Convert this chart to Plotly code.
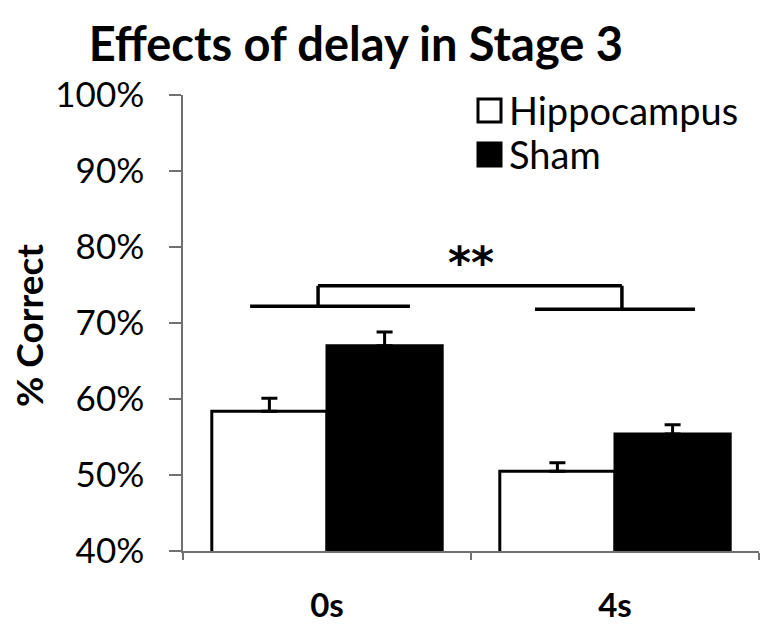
import plotly.graph_objects as go

categories = ["0s", "4s"]
category_labels = ["<b>0s</b>", "<b>4s</b>"]
series_names = ["Hippocampus", "Sham"]
hippocampus = [58.4, 50.5]
hippocampus_err = [1.7, 1.1]
sham = [67.0, 55.4]
sham_err = [1.8, 1.2]
y_ticks = [40, 50, 60, 70, 80, 90, 100]
y_tick_labels = [f"{v}%" for v in y_ticks]

# significance bracket (data coords: category index, %)
bracket_left = [-0.267, 0.288, 72.2]
bracket_right = [0.722, 1.278, 71.8]
bracket_top = [-0.031, 1.024, 74.9]
star_pos = [0.5, 78.0]

FONT = "Lato"

fig = go.Figure()
fig.add_bar(
    x=categories, y=hippocampus, name=series_names[0],
    marker=dict(color="white", line=dict(color="black", width=3)),
    error_y=dict(type="data", array=hippocampus_err, symmetric=False, arrayminus=[0, 0],
                 color="black", thickness=3, width=8),
)
fig.add_bar(
    x=categories, y=sham, name=series_names[1],
    marker=dict(color="black", line=dict(color="black", width=3)),
    error_y=dict(type="data", array=sham_err, symmetric=False, arrayminus=[0, 0],
                 color="black", thickness=3, width=8),
)

line = dict(color="black", width=3.5)
fig.add_shape(type="line", x0=bracket_left[0], x1=bracket_left[1], y0=bracket_left[2], y1=bracket_left[2], line=line)
fig.add_shape(type="line", x0=bracket_right[0], x1=bracket_right[1], y0=bracket_right[2], y1=bracket_right[2], line=line)
fig.add_shape(type="line", x0=bracket_top[0], x1=bracket_top[1], y0=bracket_top[2], y1=bracket_top[2], line=line)
fig.add_shape(type="line", x0=bracket_top[0], x1=bracket_top[0], y0=bracket_left[2], y1=bracket_top[2], line=line)
fig.add_shape(type="line", x0=bracket_top[1], x1=bracket_top[1], y0=bracket_right[2], y1=bracket_top[2], line=line)
fig.add_annotation(x=star_pos[0], y=star_pos[1], text="<b>**</b>", showarrow=False,
                   font=dict(family="DejaVu Sans", size=44, color="black"))

# manual legend (paper coordinates)
PW, PH, L, T = 576, 456, 183, 95
def px(x):
    return (x - L) / PW
def py(y):
    return 1 - (y - T) / PH
legend_boxes = [(478, 99, 501, 122, "white"), (478, 143, 501, 166, "black")]
for (x0, y0, x1, y1, c), name in zip(legend_boxes, series_names):
    fig.add_shape(type="rect", xref="paper", yref="paper", x0=px(x0), x1=px(x1), y0=py(y1), y1=py(y0),
                  fillcolor=c, line=dict(color="black", width=3))
    fig.add_annotation(xref="paper", yref="paper", x=px(507), y=py((y0 + y1) / 2), text=name,
                       showarrow=False, xanchor="left", yanchor="middle",
                       font=dict(family=FONT, size=38, color="black"))

fig.add_annotation(xref="paper", yref="paper", x=px(28), y=py(326), text="<b>% Correct</b>",
                   textangle=-90, showarrow=False, xanchor="center", yanchor="middle",
                   font=dict(family=FONT, size=37, color="black"))

fig.update_layout(
    width=767, height=625,
    margin=dict(l=L, r=8, t=T, b=625 - T - PH),
    paper_bgcolor="white", plot_bgcolor="white",
    barmode="group", bargap=0.2, bargroupgap=0,
    title=dict(text="<b>Effects of delay in Stage 3</b>", x=0.464, xanchor="center",
               y=1 - 45 / 625, yanchor="middle",
               font=dict(family=FONT, size=47, color="black")),
    font=dict(family=FONT, color="black"),
    showlegend=False,
)
fig.update_yaxes(
    range=[40, 100], tickvals=y_ticks, ticktext=y_tick_labels,
    showgrid=False, zeroline=False, automargin=False,
    showline=True, linecolor="#707070", linewidth=1.5,
    ticks="outside", ticklen=12, tickcolor="#707070", tickwidth=1.5,
    ticklabelstandoff=18,
    tickfont=dict(family=FONT, size=35, color="black"),
)
fig.update_xaxes(
    showgrid=False, showline=True, linecolor="#707070", linewidth=1.5, automargin=False,
    ticks="outside", tickson="boundaries", ticklen=7, tickcolor="#707070", tickwidth=1.5,
    ticklabelstandoff=25,
    tickfont=dict(family=FONT, size=33, color="black"),
    ticktext=category_labels, tickvals=categories,
)

fig.write_html("out.html", config={"displayModeBar": False},
               post_script="document.body.style.margin='0px';")
